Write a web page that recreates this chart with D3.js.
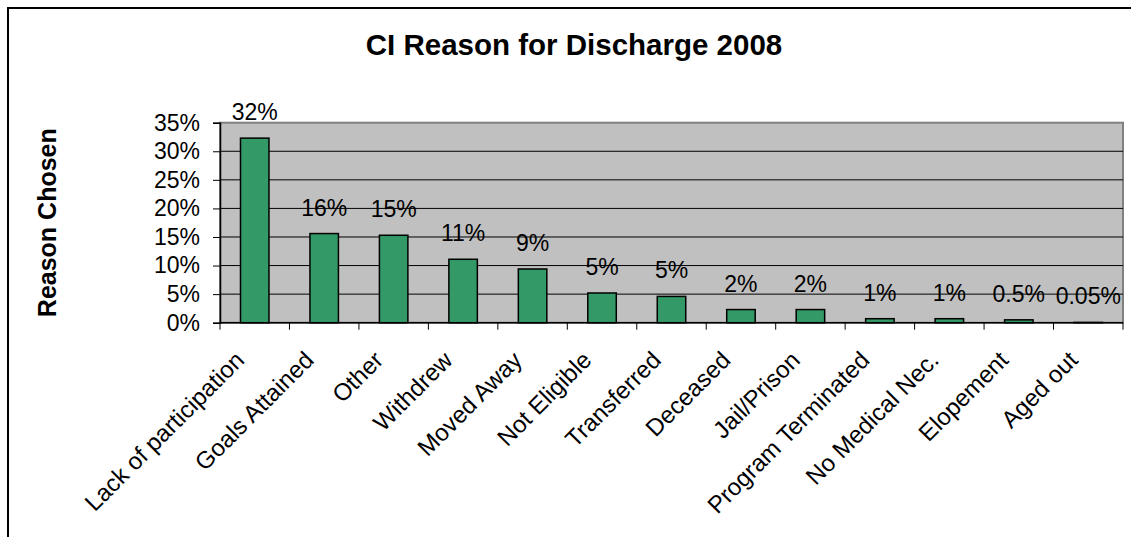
<!DOCTYPE html>
<html>
<head>
<meta charset="utf-8">
<script src="https://cdn.jsdelivr.net/npm/d3@7"></script>
<style>
   body { margin: 0; background: #fff; }
   svg { display: block; font-family: "Liberation Sans", Arial, sans-serif; }
</style>
</head>
<body>
<svg id="chart" width="1131" height="537"></svg>
<script>
// Data
var reasons = ["Lack of participation", "Goals Attained", "Other", "Withdrew", "Moved Away",
   "Not Eligible", "Transferred", "Deceased", "Jail/Prison", "Program Terminated",
   "No Medical Nec.", "Elopement", "Aged out"];
var shares = [32.3, 15.6, 15.3, 11.1, 9.4, 5.2, 4.6, 2.3, 2.3, 0.7, 0.7, 0.5, 0.05];
var shareLabels = ["32%", "16%", "15%", "11%", "9%", "5%", "5%", "2%", "2%", "1%", "1%", "0.5%", "0.05%"];
var yTicks = [0, 5, 10, 15, 20, 25, 30, 35];

window.onload = function(){
   drawChart();
};

function drawChart() {
   var svg = d3.select("#chart");

   // plot area
   var left = 220, right = 1123, top = 122.7, bottom = 322.7;

   var x = d3.scaleBand()
      .domain(reasons)
      .range([left, right])
      .padding(0);

   var y = d3.scaleLinear()
      .domain([0, 35])
      .range([bottom, top]);

   // outer chart frame (runs off the right and bottom edge)
   svg.append("rect")
      .attr("x", 8).attr("y", 8)
      .attr("width", 1200).attr("height", 600)
      .style("fill", "none")
      .style("stroke", "#000")
      .style("stroke-width", 2);

   // title
   svg.append("text")
      .attr("x", 574).attr("y", 55)
      .attr("text-anchor", "middle")
      .style("font-size", "29.5px")
      .style("font-weight", "bold")
      .text("CI Reason for Discharge 2008");

   // y title
   svg.append("text")
      .attr("transform", "translate(56," + ((top + bottom) / 2) + ") rotate(-90)")
      .attr("text-anchor", "middle")
      .style("font-size", "25px")
      .style("font-weight", "bold")
      .text("Reason Chosen");

   // plot background
   svg.append("rect")
      .attr("x", left).attr("y", top)
      .attr("width", right - left).attr("height", bottom - top)
      .style("fill", "#c0c0c0")
      .style("stroke", "#808080")
      .style("stroke-width", 2);

   // gridlines
   svg.append("g")
      .selectAll("line")
      .data(yTicks.filter(function(d){ return d > 0 && d < 35; }))
      .enter().append("line")
         .attr("x1", left).attr("x2", right)
         .attr("y1", function(d){ return y(d); })
         .attr("y2", function(d){ return y(d); })
         .style("stroke", "#000")
         .style("stroke-width", 1);

   // y axis
   var yAxis = d3.axisLeft(y)
      .tickValues(yTicks)
      .tickSize(7)
      .tickPadding(13)
      .tickFormat(function(d){ return d + "%"; });
   var gy = svg.append("g")
      .attr("transform", "translate(" + left + ",0)")
      .call(yAxis);
   gy.attr("font-family", null);
   gy.selectAll("text")
      .style("font-size", "23px")
      .style("fill", "#000");
   gy.select(".domain").style("stroke", "#000").style("stroke-width", 1.5);
   gy.selectAll(".tick line").style("stroke", "#000");

   // x axis: ticks sit on the band edges
   var edges = reasons.map(function(d){ return x(d); }).concat([right]);
   svg.append("g")
      .selectAll("line")
      .data(edges)
      .enter().append("line")
         .attr("x1", function(d){ return d; })
         .attr("x2", function(d){ return d; })
         .attr("y1", bottom).attr("y2", bottom + 7)
         .style("stroke", "#000")
         .style("stroke-width", 1);
   svg.append("line")
      .attr("x1", left).attr("x2", right)
      .attr("y1", bottom).attr("y2", bottom)
      .style("stroke", "#000")
      .style("stroke-width", 1.5);

   svg.append("g")
      .selectAll("text")
      .data(reasons)
      .enter().append("text")
         .attr("transform", function(d){
            return "translate(" + (x(d) + x.bandwidth() / 2 - 15) + "," + (bottom + 33) + ") rotate(-45)";
         })
         .attr("text-anchor", "end")
         .attr("dy", "0.35em")
         .style("font-size", "24px")
         .text(function(d){ return d; });

   // bars
   var barW = x.bandwidth() * 0.41;
   svg.append("g")
      .selectAll("rect")
      .data(shares)
      .enter().append("rect")
         .attr("x", function(d, i){ return x(reasons[i]) + (x.bandwidth() - barW) / 2; })
         .attr("y", function(d){ return y(d); })
         .attr("width", barW)
         .attr("height", function(d){ return bottom - y(d); })
         .style("fill", "#339966")
         .style("stroke", "#000")
         .style("stroke-width", 1.5);

   // value labels
   svg.append("g")
      .selectAll("text")
      .data(shares)
      .enter().append("text")
         .attr("x", function(d, i){ return x(reasons[i]) + x.bandwidth() / 2; })
         .attr("y", function(d){ return y(d) - 18; })
         .attr("text-anchor", "middle")
         .style("font-size", "23px")
         .text(function(d, i){ return shareLabels[i]; });
}
</script>
</body>
</html>
